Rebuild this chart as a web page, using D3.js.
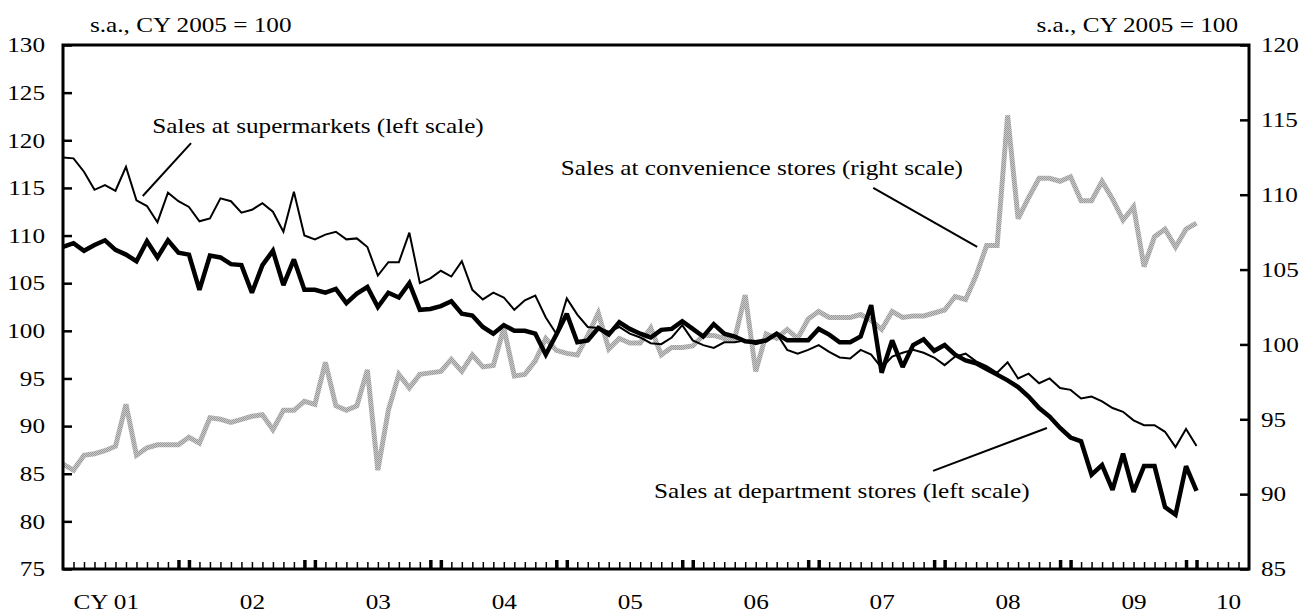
<!DOCTYPE html>
<html>
<head>
<meta charset="utf-8">
<script src="https://cdn.jsdelivr.net/npm/d3@7"></script>
<style>
  body { margin: 0; background: #fff; }
  text { font-family: "Liberation Serif", "Times New Roman", serif; font-size: 21px; fill: #000; }
</style>
</head>
<body>
<svg id="chart"></svg>
<script>
// Monthly data, Jan 2001 (index 0) to Jan 2010 (index 108)
var supermarkets = [
  118.2, 118.1, 116.7, 114.8, 115.3, 114.7, 117.2, 113.7, 113.1, 111.4, 114.5, 113.6,
  113.0, 111.5, 111.8, 113.9, 113.6, 112.4, 112.7, 113.4, 112.5, 110.4, 114.6, 110.0,
  109.6, 110.1, 110.4, 109.6, 109.7, 108.8, 105.8, 107.2, 107.2, 110.3, 105.0, 105.5,
  106.3, 105.7, 107.3, 104.3, 103.3, 104.0, 103.5, 102.2, 103.2, 103.7, 101.4, 99.7,
  103.4, 101.7, 100.4, 100.3, 99.9, 100.4, 99.7, 99.3, 98.7, 98.6, 99.3, 100.6,
  99.0, 98.5, 98.2, 98.8, 98.8, 99.0, 98.6, 98.9, 99.7, 98.0, 97.6, 98.0,
  98.5, 97.8, 97.2, 97.1, 98.0, 97.5, 96.1, 97.3, 97.7, 98.0, 97.7, 97.2,
  96.4, 97.3, 97.6, 96.8, 96.3, 95.6, 96.7, 95.0, 95.5, 94.5, 95.0, 94.0,
  93.8, 92.9, 93.1, 92.6, 91.9, 91.5, 90.6, 90.1, 90.1, 89.4, 87.8, 89.7,
  87.9
];
var deptStores = [
  108.8, 109.2, 108.4, 109.0, 109.5, 108.5, 108.0, 107.3, 109.4, 107.7, 109.5, 108.2,
  108.0, 104.3, 107.9, 107.7, 107.0, 106.9, 104.0, 106.9, 108.4, 104.8, 107.5, 104.3,
  104.3, 104.0, 104.4, 102.9, 103.9, 104.6, 102.5, 104.0, 103.5, 105.0, 102.2, 102.3,
  102.6, 103.1, 101.8, 101.6, 100.4, 99.7, 100.6, 100.0, 100.0, 99.7, 97.5, 99.6,
  101.8, 98.8, 99.0, 100.3, 99.6, 100.9, 100.2, 99.7, 99.3, 100.1, 100.2, 101.0,
  100.2, 99.4, 100.7, 99.7, 99.4, 98.9, 98.8, 99.0, 99.7, 99.0, 99.0, 99.0,
  100.2, 99.6, 98.8, 98.8, 99.4, 102.7, 95.6, 99.0, 96.2, 98.5, 99.1, 97.9,
  98.5, 97.5, 96.9, 96.6, 96.0, 95.4, 94.8, 94.1, 93.1, 91.9, 91.0, 89.8,
  88.8, 88.4, 84.9, 85.9, 83.3, 87.1, 83.1, 85.8, 85.8, 81.5, 80.7, 85.8,
  83.2
];
var convStores = [
  92.0, 91.6, 92.6, 92.7, 92.9, 93.2, 96.0, 92.6, 93.1, 93.3, 93.3, 93.3,
  93.8, 93.4, 95.1, 95.0, 94.8, 95.0, 95.2, 95.3, 94.3, 95.6, 95.6, 96.2,
  96.0, 98.8, 95.9, 95.6, 95.9, 98.3, 91.6, 95.6, 98.0, 97.1, 98.0, 98.1,
  98.2, 99.0, 98.2, 99.3, 98.5, 98.6, 101.1, 97.9, 98.0, 98.9, 100.4, 99.6,
  99.4, 99.3, 100.6, 102.1, 99.7, 100.4, 100.1, 100.1, 101.1, 99.3, 99.8, 99.8,
  99.9, 100.6, 100.6, 100.4, 100.4, 103.3, 98.2, 100.7, 100.4, 101.0, 100.4, 101.7,
  102.2, 101.8, 101.8, 101.8, 102.0, 101.6, 101.0, 102.2, 101.8, 101.9, 101.9, 102.1,
  102.3, 103.2, 103.0, 104.6, 106.6, 106.6, 115.3, 108.4, 109.8, 111.1, 111.1, 110.9,
  111.2, 109.6, 109.6, 110.9, 109.7, 108.3, 109.2, 105.2, 107.2, 107.7, 106.5, 107.7,
  108.1
];
var yearLabels = ["CY 01", "02", "03", "04", "05", "06", "07", "08", "09", "10"];
var leftTicks = [75, 80, 85, 90, 95, 100, 105, 110, 115, 120, 125, 130];
var rightTicks = [85, 90, 95, 100, 105, 110, 115, 120];
var unitLabel = "s.a., CY 2005 = 100";

var svgWidth = 1308;
var svgHeight = 615;
var margin = { top: 45, right: 59, bottom: 46, left: 63 };
var width = svgWidth - margin.left - margin.right;
var height = svgHeight - margin.top - margin.bottom;
var nMonths = 113;      // axis runs Jan 2001 .. end of May 2010
var sx = 1.2;           // reference text is horizontally stretched

var svg = d3.select("#chart")
  .attr("width", svgWidth)
  .attr("height", svgHeight);

var plot = svg.append("g")
  .attr("transform", `translate(${margin.left}, ${margin.top})`);

var xScale = d3.scaleLinear().domain([0, nMonths]).range([0, width]);
var yLeft = d3.scaleLinear().domain([75, 130]).range([height, 0]);
var yRight = d3.scaleLinear().domain([85, 120]).range([height, 0]);

// gray dithered stroke for convenience stores
var pat = svg.append("defs").append("pattern")
  .attr("id", "dither")
  .attr("patternUnits", "userSpaceOnUse")
  .attr("width", 2).attr("height", 2);
pat.append("rect").attr("width", 2).attr("height", 2).attr("fill", "#c9c9c9");
pat.append("rect").attr("width", 1).attr("height", 1).attr("fill", "#9a9a9a");
pat.append("rect").attr("x", 1).attr("y", 1).attr("width", 1).attr("height", 1).attr("fill", "#9a9a9a");

// Lines
var lineL = d3.line().x((d, i) => xScale(i)).y(d => yLeft(d));
var lineR = d3.line().x((d, i) => xScale(i)).y(d => yRight(d));

plot.append("path")
  .datum(convStores)
  .attr("d", lineR)
  .attr("fill", "none")
  .attr("stroke", "url(#dither)")
  .attr("stroke-width", 5)
  .attr("stroke-linejoin", "miter")
  .attr("stroke-miterlimit", 3);

plot.append("path")
  .datum(supermarkets)
  .attr("d", lineL)
  .attr("fill", "none")
  .attr("stroke", "#000")
  .attr("stroke-width", 2)
  .attr("stroke-linejoin", "miter")
  .attr("stroke-miterlimit", 3);

plot.append("path")
  .datum(deptStores)
  .attr("d", lineL)
  .attr("fill", "none")
  .attr("stroke", "#000")
  .attr("stroke-width", 4.5)
  .attr("stroke-linejoin", "miter")
  .attr("stroke-miterlimit", 2.5);

// Axes
var leftAxis = d3.axisLeft(yLeft).tickValues(leftTicks).tickSize(-9).tickSizeOuter(0).tickPadding(18);
var rightAxis = d3.axisRight(yRight).tickValues(rightTicks).tickSize(-9).tickSizeOuter(0).tickPadding(12);
var monthAxis = d3.axisBottom(xScale).tickValues(d3.range(1, nMonths)).tickSize(-7).tickSizeOuter(0).tickFormat("");

var gl = plot.append("g").call(leftAxis);
gl.selectAll("text").attr("x", null).attr("transform", `translate(-18,0) scale(${sx},1)`);

var gr = plot.append("g").attr("transform", `translate(${width},0)`).call(rightAxis);
gr.selectAll("text").attr("x", null).attr("transform", `translate(12,0) scale(${sx},1)`);

var gb = plot.append("g").attr("transform", `translate(0,${height})`).call(monthAxis);
gb.selectAll(".tick line")
  .attr("stroke-width", d => (d % 12 === 0 || d % 12 === 11) ? 3.5 : 1.5)
  .attr("y2", d => (d % 12 === 0 || d % 12 === 11) ? -9 : -7);

[gl, gr, gb].forEach(function(g) {
  g.select(".domain").remove();
  g.selectAll(".tick line").attr("stroke", "#000");
  g.selectAll("line").filter(function() { return this.parentNode.parentNode !== gb.node(); }).attr("stroke-width", 2.5);
  g.attr("font-size", null).attr("font-family", null);
});

// Year labels, centred on the visible part of each year
var yearAxis = d3.axisBottom(xScale)
  .tickValues(yearLabels.map((d, i) => Math.min(i * 12 + 6, (i * 12 + nMonths) / 2 + 0.5)))
  .tickSize(0)
  .tickPadding(25)
  .tickFormat((d, i) => yearLabels[i]);
var gy = plot.append("g").attr("transform", `translate(0,${height})`).call(yearAxis);
gy.select(".domain").remove();
gy.attr("font-size", null).attr("font-family", null);
gy.selectAll("text")
  .attr("text-anchor", "end")
  .attr("transform", `translate(${10.5 * sx},0) scale(${sx},1)`);

// Frame
plot.append("rect")
  .attr("width", width)
  .attr("height", height)
  .attr("fill", "none")
  .attr("stroke", "#000")
  .attr("stroke-width", 3);

// Unit labels
svg.append("text")
  .attr("transform", `translate(90,32) scale(${sx},1)`)
  .text(unitLabel);
svg.append("text")
  .attr("text-anchor", "end")
  .attr("transform", `translate(1238,32) scale(${sx},1)`)
  .text(unitLabel);

// Annotations (positions in month index / left-scale units)
var notes = [
  { text: "Sales at supermarkets (left scale)", at: [8.5, 120.8], anchor: "start", from: [7.6, 114.15], to: [12.2, 119.7] },
  { text: "Sales at convenience stores (right scale)", at: [85.75, 116.35], anchor: "end", from: [77.2, 115.0], to: [87.1, 108.8] },
  { text: "Sales at department stores (left scale)", at: [92.1, 82.45], anchor: "end", from: [82.9, 85.3], to: [93.75, 89.8] }
];

notes.forEach(function(n) {
  plot.append("line")
    .attr("x1", xScale(n.from[0])).attr("y1", yLeft(n.from[1]))
    .attr("x2", xScale(n.to[0])).attr("y2", yLeft(n.to[1]))
    .attr("stroke", "#000")
    .attr("stroke-width", 2);
  plot.append("text")
    .attr("text-anchor", n.anchor)
    .attr("transform", `translate(${xScale(n.at[0])},${yLeft(n.at[1])}) scale(${sx},1)`)
    .text(n.text);
});
</script>
</body>
</html>
